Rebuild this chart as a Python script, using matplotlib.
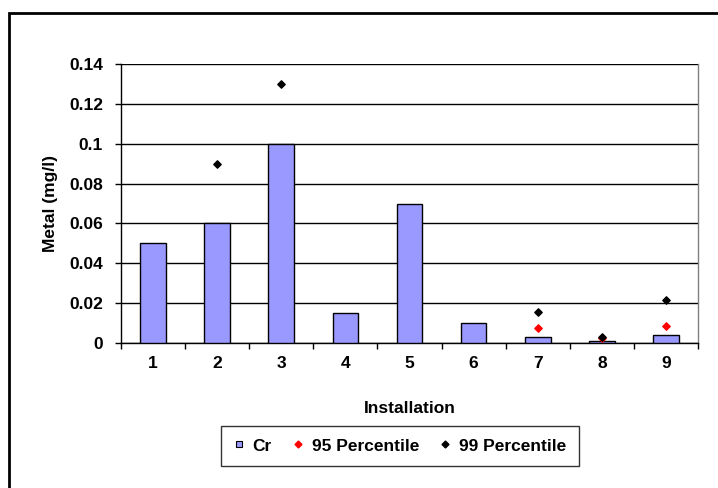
import numpy as np
import matplotlib
matplotlib.use("Agg")
import matplotlib.pyplot as plt
from matplotlib.lines import Line2D

plt.rcParams['font.family'] = ['Liberation Sans', 'DejaVu Sans']

installations = ['1', '2', '3', '4', '5', '6', '7', '8', '9']
cr = [0.05, 0.06, 0.10, 0.015, 0.07, 0.01, 0.003, 0.001, 0.004]
p95 = [np.nan, np.nan, np.nan, np.nan, np.nan, np.nan, 0.0074, 0.0025, 0.0085]
p99 = [np.nan, 0.09, 0.13, np.nan, np.nan, np.nan, 0.0157, 0.0029, 0.0214]
yticks = [0, 0.02, 0.04, 0.06, 0.08, 0.1, 0.12, 0.14]
ytick_labels = ['0', '0.02', '0.04', '0.06', '0.08', '0.1', '0.12', '0.14']

W, H = 718, 488
FS = 12.5
fig = plt.figure(figsize=(W / 100, H / 100), dpi=100)
ax = fig.add_axes([121 / W, 1 - 343 / H, (698 - 121) / W, (343 - 64) / H])

x = np.arange(len(installations))
ax.bar(x, cr, width=0.4, color='#9999FF', edgecolor='black', linewidth=1, zorder=3)
ax.scatter(x, p95, marker='D', s=14, color='red', zorder=4)
ax.scatter(x, p99, marker='D', s=14, color='black', zorder=5)

ax.set_xlim(-0.5, len(installations) - 0.5)
ax.set_ylim(0, 0.14)
ax.set_yticks(yticks)
ax.set_yticklabels(ytick_labels, fontsize=FS, fontweight='bold')
ax.set_xticks(x)
ax.set_xticklabels(installations, fontsize=FS, fontweight='bold')
ax.set_xticks(np.arange(-0.5, len(installations)), minor=True)
ax.tick_params(axis='x', which='major', length=0, pad=9)
ax.tick_params(axis='x', which='minor', length=4, direction='out', width=1)
ax.tick_params(axis='y', length=4, direction='out', width=1, pad=9)
ax.yaxis.grid(True, color='black', linewidth=1, zorder=0)
ax.set_axisbelow(True)
for s in ['left', 'bottom']:
    ax.spines[s].set_color('black')
    ax.spines[s].set_linewidth(1)
ax.spines['top'].set_visible(False)
ax.spines['right'].set_color('#808080')
ax.spines['right'].set_linewidth(1)

ax.set_xlabel('Installation', fontsize=FS, fontweight='bold', labelpad=22)
ax.set_ylabel('Metal (mg/l)', fontsize=FS, fontweight='bold', labelpad=8)

handles = [
    Line2D([], [], marker='s', linestyle='none', markerfacecolor='#9999FF', markeredgecolor='black', markersize=5, markeredgewidth=0.8),
    Line2D([], [], marker='D', linestyle='none', color='red', markersize=3.5),
    Line2D([], [], marker='D', linestyle='none', color='black', markersize=3.5),
]
leg = fig.legend(handles, ['Cr', '95 Percentile', '99 Percentile'], ncol=3,
                 loc='center', bbox_to_anchor=(400 / W, 1 - 446 / H),
                 prop={'size': FS, 'weight': 'bold'}, frameon=True, fancybox=False,
                 edgecolor='black', handlelength=0.6, handletextpad=0.5, columnspacing=1.2,
                 borderpad=0.7, borderaxespad=0)
leg.get_frame().set_linewidth(1)

# outer chart border
fig.add_artist(plt.Rectangle((8.5 / W, -0.1), 1.2, 1 - 13.5 / H + 0.1, transform=fig.transFigure,
                             fill=False, edgecolor='black', linewidth=2))

fig.savefig('out.png', dpi=100)
